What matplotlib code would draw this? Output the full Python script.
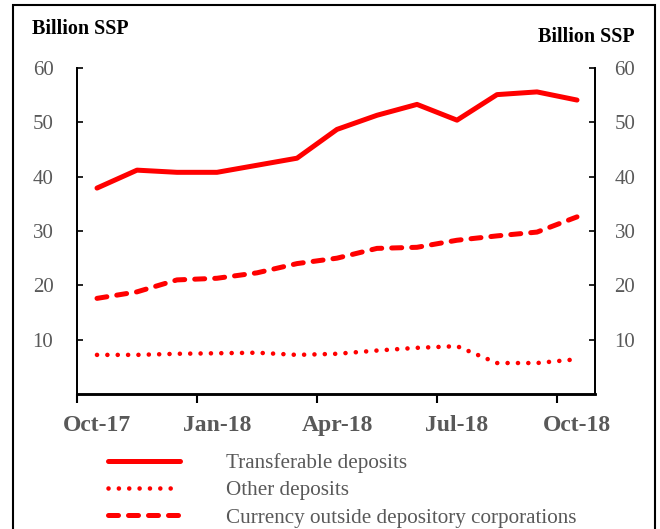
import numpy as np
import matplotlib
matplotlib.use("Agg")
import matplotlib.pyplot as plt
from matplotlib.patches import Rectangle

plt.rcParams['font.family'] = ['Liberation Serif', 'DejaVu Serif']

# monthly data, Oct-17 .. Oct-18 (billion SSP)
months = ['Oct-17', 'Nov-17', 'Dec-17', 'Jan-18', 'Feb-18', 'Mar-18', 'Apr-18',
          'May-18', 'Jun-18', 'Jul-18', 'Aug-18', 'Sep-18', 'Oct-18']
transferable = [37.9, 41.2, 40.8, 40.8, 42.1, 43.4, 48.7, 51.3, 53.3, 50.4, 55.1, 55.6, 54.1]
other = [7.2, 7.2, 7.4, 7.5, 7.6, 7.2, 7.4, 8.0, 8.5, 8.8, 5.7, 5.7, 6.4]
currency = [17.6, 18.8, 21.0, 21.3, 22.3, 24.0, 25.0, 26.8, 27.0, 28.3, 29.1, 29.8, 32.6]
yticks = [10, 20, 30, 40, 50, 60]

grey = '#595959'
red = '#ff0000'

fig = plt.figure(figsize=(6.6, 5.29), dpi=100)
ax = fig.add_axes([77/660, 1-394/529, (595-77)/660, (394-68)/529])

x = np.arange(len(months))
l1, = ax.plot(x, transferable, color=red, lw=3.6, solid_capstyle='round',
              label='Transferable deposits')
l2, = ax.plot(x, other, color=red, lw=3.3, dashes=(0.01, 2.25), dash_capstyle='round',
              label='Other deposits')
l3, = ax.plot(x, currency, color=red, lw=3.6, dashes=(2.0, 2.0), dash_capstyle='round',
              label='Currency outside depository corporations')

ax.set_xlim(-0.5, 12.45)
ax.set_ylim(0, 60)

# ticks between categories, labels on every third month
ax.set_xticks(np.arange(-0.5, 12, 3))
ax.set_xticklabels([])
ax.set_xticks(x[::3], minor=True)
ax.set_xticklabels([months[i] for i in x[::3]], minor=True)
ax.tick_params(axis='x', which='major', direction='out', length=6.5, width=1.5)
ax.tick_params(axis='x', which='minor', length=0, pad=15, labelsize=17,
               labelcolor=grey)
for t in ax.get_xticklabels(minor=True):
    t.set_fontweight('bold')

ax.set_yticks(yticks)
ax.tick_params(axis='y', direction='in', length=4, width=1.2, labelsize=15,
               labelcolor=grey, pad=17, right=True)

ax2 = ax.twinx()
ax2.set_ylim(0, 60)
ax2.set_yticks(yticks)
ax2.tick_params(axis='y', direction='in', length=4, width=1.2, labelsize=15,
                labelcolor=grey, pad=14)

for a in (ax, ax2):
    a.spines['top'].set_visible(False)
    for s in ('left', 'right'):
        a.spines[s].set_linewidth(1.3)
    a.spines['bottom'].set_linewidth(1.8)

fig.text(32/660, 1-29/529, 'Billion SSP', fontsize=14.5, fontweight='bold',
         va='center', ha='left')
fig.text(635/660, 1-37/529, 'Billion SSP', fontsize=14.5, fontweight='bold',
         va='center', ha='right')

fig.legend(handles=[l1, l2, l3], loc='upper left',
           bbox_to_anchor=(108/660, 1-453/529), frameon=False, fontsize=15.2,
           handlelength=3.4, handletextpad=2.2, labelspacing=0.36,
           borderpad=0, borderaxespad=0, labelcolor=grey)

fig.patches.append(Rectangle((12.5/660, -0.1), (655-12.5)/660, 1.1-5/529,
                             transform=fig.transFigure, fill=False,
                             edgecolor='black', lw=1.5))

fig.savefig('out.png', dpi=100)
